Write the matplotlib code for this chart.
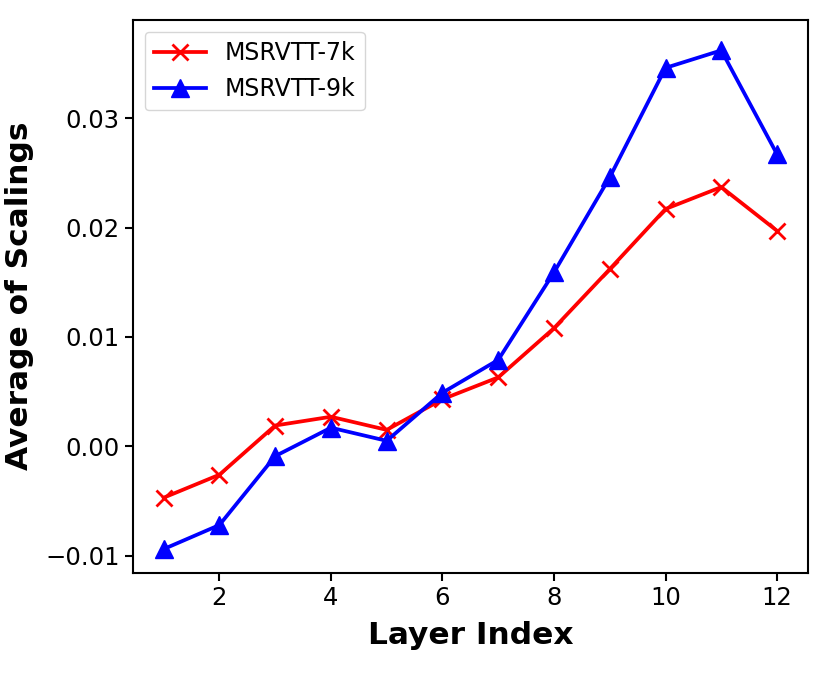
import numpy as np
import matplotlib
matplotlib.use("Agg")
import matplotlib.pyplot as plt

layers = list(range(1, 13))
msrvtt_7k = [-0.0047, -0.0026, 0.0019, 0.0027, 0.0015, 0.0043, 0.0063,
             0.0108, 0.0162, 0.0217, 0.0237, 0.0197]
msrvtt_9k = [-0.0094, -0.0072, -0.0009, 0.0017, 0.0005, 0.0049, 0.0079,
             0.0159, 0.0246, 0.0346, 0.0362, 0.0267]

fig = plt.figure(figsize=(8.31, 6.81), dpi=100)
ax = fig.add_axes([0.160, 0.159, 0.812, 0.812])

ax.plot(layers, msrvtt_7k, color="red", marker="x", lw=2.7, ms=12, mew=2,
        label="MSRVTT-7k")
ax.plot(layers, msrvtt_9k, color="blue", marker="^", lw=2.7, ms=13,
        label="MSRVTT-9k")

ax.set_xticks([2, 4, 6, 8, 10, 12])
ax.set_yticks([-0.01, 0.0, 0.01, 0.02, 0.03])
ax.set_ylim(-0.01156, 0.0390)
ax.tick_params(labelsize=17.5, width=1.5, length=6)
for s in ax.spines.values():
    s.set_linewidth(1.5)
ax.set_xlabel("Layer Index", fontsize=22.5, fontweight="bold", labelpad=8)
ax.set_ylabel("Average of Scalings", fontsize=22.5, fontweight="bold", labelpad=8)
ax.legend(loc="upper left", fontsize=17, handlelength=2.2)

fig.savefig("out.png", dpi=100)
